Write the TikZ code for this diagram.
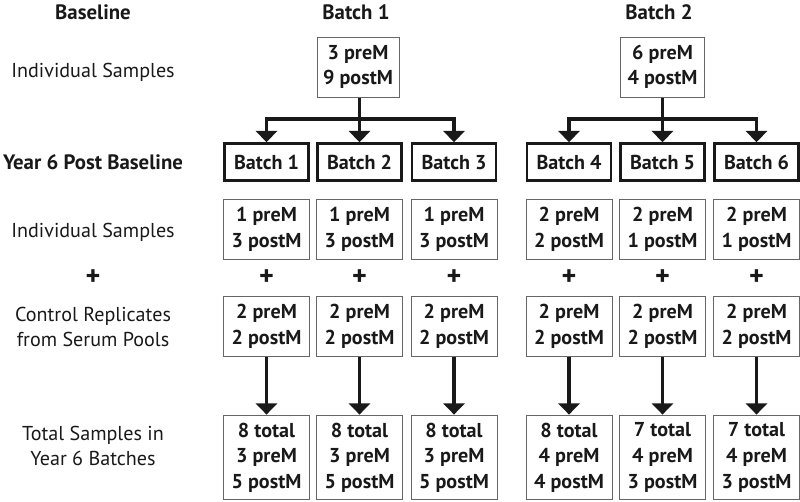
\documentclass[tikz,border=0pt]{standalone}
\usepackage{fontspec}
\setmainfont{PT Sans}
\usetikzlibrary{arrows.meta}

\begin{document}
\begin{tikzpicture}[x=0.025cm, y=-0.025cm,
        every node/.style={font=\fontsize{14.3}{17.8}\selectfont, text=black!90, align=center},
        head/.style={font=\fontsize{14.8}{18}\selectfont\bfseries},
        plus/.style={font=\fontsize{20}{20}\selectfont\bfseries},
        numbox/.style={draw=black!60, line width=0.7pt, minimum width=2.15cm, inner sep=0pt, font=\fontsize{14.3}{18.2}\selectfont\bfseries},
        batchbox/.style={draw=black!90, line width=1.7pt, minimum width=2.1cm, minimum height=0.93cm, inner sep=0pt, font=\fontsize{14.3}{17}\selectfont\bfseries},
        conn/.style={draw=black!90, line width=2.5pt, line join=miter},
        arr/.style={conn, -{Triangle[width=15pt,length=8pt]}}]
        \useasboundingbox (0,0) rectangle (800,501);
        % column headings
        \node[head] (hbase) at (93,12) {Baseline};
        \node[head] (hbatchA) at (356,12) {Batch 1};
        \node[head] (hbatchB) at (659,12) {Batch 2};
        % row labels
        \node (lindiv) at (93,72) {Individual Samples};
        \node[head] (lyear) at (93,162) {Year 6 Post Baseline};
        \node (lsamp) at (93,232) {Individual Samples};
        \node[plus] (lplus) at (93,278) {+};
        \node (lctrl) at (93,327) {Control Replicates\\from Serum Pools};
        \node (ltot) at (93,446) {Total Samples in\\Year 6 Batches};
        % baseline boxes
        \node[numbox, minimum width=2.05cm, minimum height=1.5cm] (topA) at (358,67) {3 preM\\9 postM};
        \node[numbox, minimum width=2.1cm, minimum height=1.5cm] (topB) at (662.5,67) {6 preM\\4 postM};
        % year 6 batches
        \foreach \i/\x/\pi/\qi/\tot/\pt/\qt in {1/266.5/1/3/8/3/5, 2/359.5/1/3/8/3/5, 3/454/1/3/8/3/5,
                4/569/2/2/8/4/4, 5/662.5/2/1/7/4/3, 6/756.5/2/1/7/4/3} {
            \node[batchbox] (y\i) at (\x,162) {Batch \i};
            \node[numbox, minimum height=1.52cm] (s\i) at (\x,229.5) {\pi\ preM\\\qi\ postM};
            \node[plus] (p\i) at (\x,278) {+};
            \node[numbox, minimum height=1.52cm] (c\i) at (\x,326.5) {2 preM\\2 postM};
            \node[numbox, minimum height=2.12cm] (t\i) at (\x,457.5) {\tot\ total\\\pt\ preM\\\qt\ postM};
            \draw[arr] (c\i) -- (t\i);
        }
        % splitting arrows
        \coordinate (jA) at (359.5,119);
        \coordinate (jB) at (662.5,119);
        \draw[conn] (topA.south -| jA) -- (jA);
        \draw[conn] (topB) -- (jB);
        \draw[arr] (jA) -| (y1);
        \draw[arr] (jA) -- (y2);
        \draw[arr] (jA) -| (y3);
        \draw[arr] (jB) -| (y4);
        \draw[arr] (jB) -- (y5);
        \draw[arr] (jB) -| (y6);
    \end{tikzpicture}
\end{document}
